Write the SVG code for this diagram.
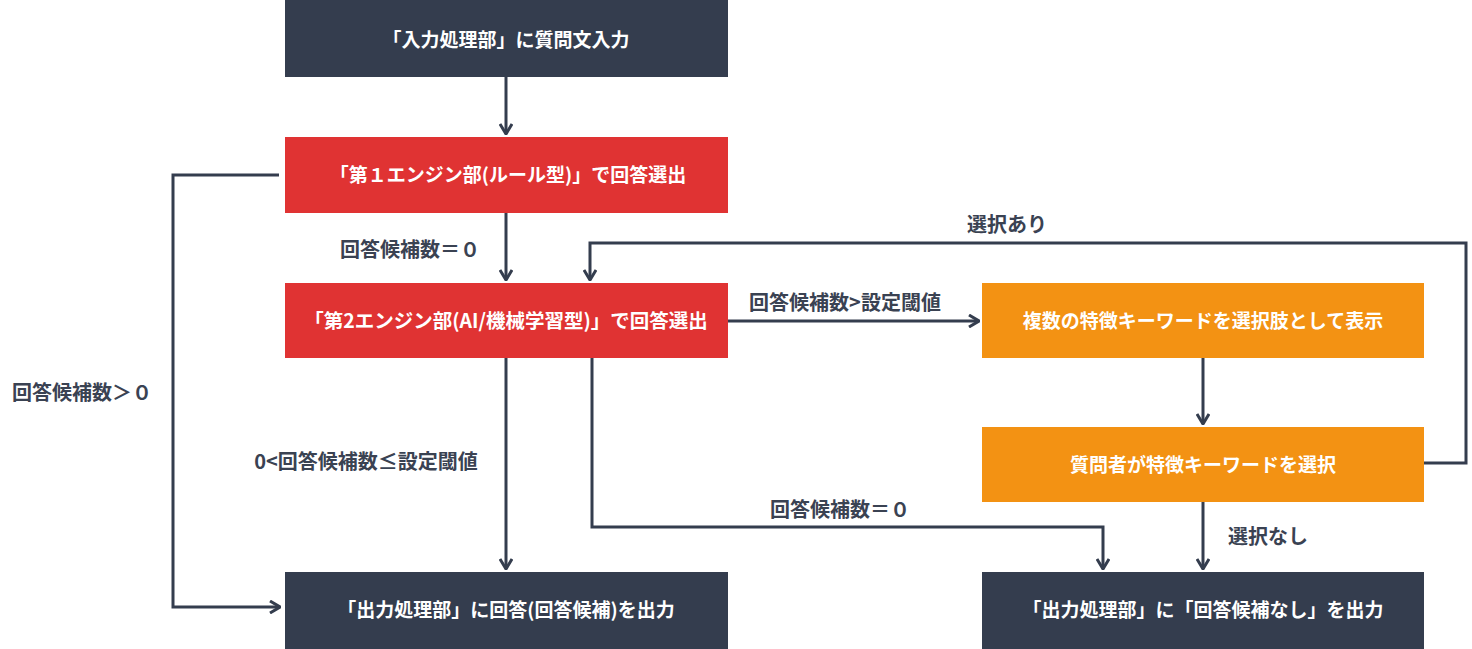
<svg xmlns="http://www.w3.org/2000/svg" width="1472" height="649" viewBox="0 0 1472 649">
<style>
.dark{fill:#343d4e}
.red{fill:#e03333}
.orange{fill:#f39213}
.nt{font-family:"Noto Sans CJK JP","Noto Sans",sans-serif;font-weight:bold;font-size:19px;fill:#ffffff;text-anchor:middle}
.lb{font-family:"Noto Sans CJK JP","Noto Sans",sans-serif;font-weight:bold;font-size:20px;fill:#3a4252;text-anchor:middle}
.ln{fill:none;stroke:#343d4e;stroke-width:3;stroke-linejoin:miter}
</style>
<defs>
<marker id="ah" viewBox="0 0 12 14" refX="11" refY="7" markerWidth="12" markerHeight="14" markerUnits="userSpaceOnUse" orient="auto">
<path d="M1,1 L11,7 L1,13" fill="none" stroke="#343d4e" stroke-width="3"/>
</marker>
</defs>
<rect width="1472" height="649" fill="#ffffff"/>
<g id="connectors">
<path class="ln" d="M506,77 V134" marker-end="url(#ah)"/>
<path class="ln" d="M506,213 V280" marker-end="url(#ah)"/>
<path class="ln" d="M279,175 H173 V607 H280" marker-end="url(#ah)"/>
<path class="ln" d="M1424,463 H1466 V243 H590 V280" marker-end="url(#ah)"/>
<path class="ln" d="M728,321 H979" marker-end="url(#ah)"/>
<path class="ln" d="M1203,358 V424" marker-end="url(#ah)"/>
<path class="ln" d="M506,358 V569" marker-end="url(#ah)"/>
<path class="ln" d="M592,358 V527 H1103 V569" marker-end="url(#ah)"/>
<path class="ln" d="M1203,502 V569" marker-end="url(#ah)"/>
<text class="lb" x="410" y="257">回答候補数＝０</text>
<text class="lb" x="82" y="400">回答候補数＞０</text>
<text class="lb" x="366" y="469">0&lt;回答候補数≤設定閾値</text>
<text class="lb" x="845" y="310">回答候補数&gt;設定閾値</text>
<text class="lb" x="1007" y="232">選択あり</text>
<text class="lb" x="840" y="517">回答候補数＝０</text>
<text class="lb" x="1268" y="544">選択なし</text>
</g>
<g id="n-input">
<rect class="dark" x="285" y="0" width="443" height="77"/>
<text class="nt" x="506" y="47">「入力処理部」に質問文入力</text>
</g>
<g id="n-engine1">
<rect class="red" x="285" y="137" width="443" height="76"/>
<text class="nt" x="508" y="182">「第１エンジン部(ルール型)」で回答選出</text>
</g>
<g id="n-engine2">
<rect class="red" x="285" y="283" width="443" height="75"/>
<text class="nt" x="506" y="328" style="font-size:19.5px">「第2エンジン部(AI/機械学習型)」で回答選出</text>
</g>
<g id="n-show">
<rect class="orange" x="982" y="283" width="442" height="75"/>
<text class="nt" x="1203" y="328">複数の特徴キーワードを選択肢として表示</text>
</g>
<g id="n-select">
<rect class="orange" x="982" y="427" width="442" height="75"/>
<text class="nt" x="1203" y="472">質問者が特徴キーワードを選択</text>
</g>
<g id="n-out1">
<rect class="dark" x="285" y="572" width="443" height="77"/>
<text class="nt" x="506" y="617">「出力処理部」に回答(回答候補)を出力</text>
</g>
<g id="n-out2">
<rect class="dark" x="982" y="572" width="442" height="77"/>
<text class="nt" x="1203" y="617">「出力処理部」に「回答候補なし」を出力</text>
</g>
</svg>
